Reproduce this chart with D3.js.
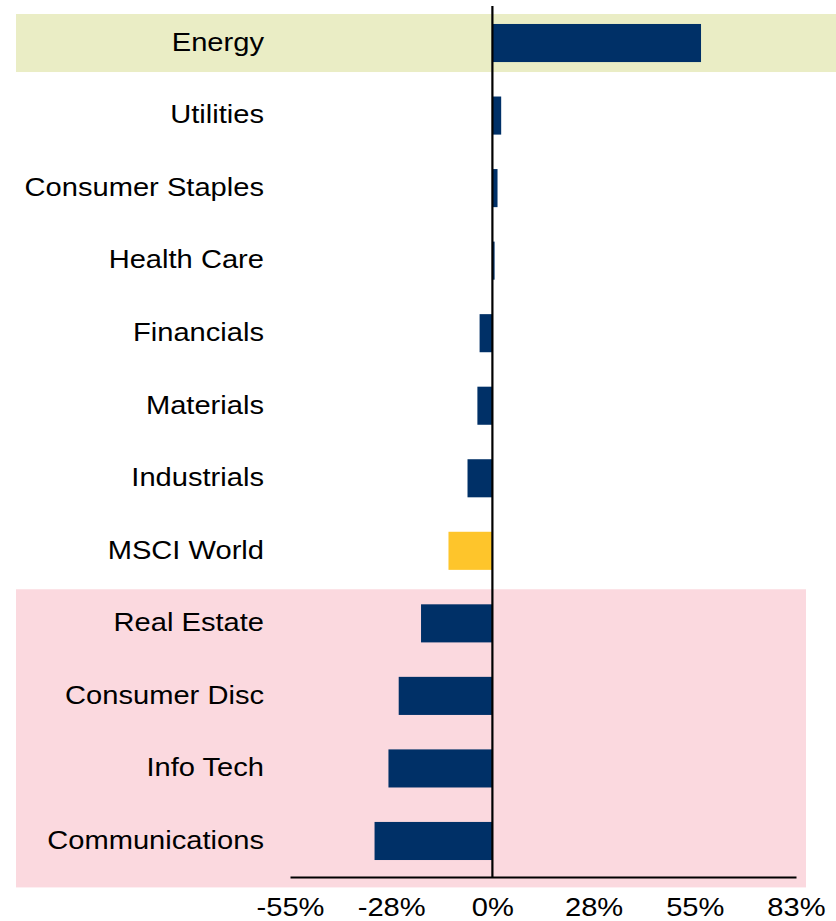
<!DOCTYPE html>
<html>
<head>
<meta charset="utf-8">
<script src="https://cdn.jsdelivr.net/npm/d3@7"></script>
<style>
  html, body { margin: 0; padding: 0; background: #fff; }
  svg { display: block; }
  text { font-family: Arial, "Liberation Sans", sans-serif; fill: #000; }
</style>
</head>
<body>
<svg id="chart" width="836" height="921"></svg>
<script>
const categories = ["Energy", "Utilities", "Consumer Staples", "Health Care", "Financials",
  "Materials", "Industrials", "MSCI World", "Real Estate", "Consumer Disc", "Info Tech", "Communications"];
const values = [57.0, 2.4, 1.4, 0.6, -3.5, -4.1, -6.8, -12.0, -19.5, -25.6, -28.4, -32.2];
const highlight = ["MSCI World"];
const tickValues = [-55.3, -27.65, 0, 27.65, 55.3, 82.95];
const tickLabels = ["-55%", "-28%", "0%", "28%", "55%", "83%"];
const positiveBand = ["Energy"];
const negativeBand = ["Real Estate", "Consumer Disc", "Info Tech", "Communications"];

const svg = d3.select("#chart");
const x = d3.scaleLinear().domain([-55.3, 82.95]).range([290, 796]);
const y = d3.scaleBand().domain(categories).range([7, 877]).paddingInner(0.475).paddingOuter(0.234);
const step = y.step();
const c = d => y(d) + y.bandwidth() / 2;

// background bands
svg.append("rect")
  .attr("x", 16).attr("width", 820)
  .attr("y", c(positiveBand[0]) - 0.4 * step)
  .attr("height", 0.8 * step)
  .attr("fill", "#eaedc5");
const nb0 = c(negativeBand[0]) - 0.47 * step;
const nb1 = c(negativeBand[negativeBand.length - 1]) + 0.64 * step;
svg.append("rect")
  .attr("x", 16).attr("width", 790)
  .attr("y", nb0).attr("height", nb1 - nb0)
  .attr("fill", "#fbd9df");

// bars
svg.append("g").selectAll("rect")
  .data(categories.map((k, i) => ({ k, v: values[i] })))
  .join("rect")
  .attr("x", d => x(Math.min(0, d.v)))
  .attr("width", d => Math.abs(x(d.v) - x(0)))
  .attr("y", d => y(d.k))
  .attr("height", y.bandwidth())
  .attr("fill", d => highlight.includes(d.k) ? "#fec52b" : "#003067");

// category labels
svg.append("g").selectAll("text")
  .data(categories)
  .join("text")
  .attr("text-anchor", "end")
  .attr("font-size", 26)
  .attr("transform", d => `translate(264,${c(d)}) scale(1.12,1)`)
  .attr("dy", "0.3em")
  .text(d => d);

// x axis
const xAxis = d3.axisBottom(x).tickValues(tickValues)
  .tickFormat((d, i) => tickLabels[i]).tickSize(0).tickPadding(0);
const ax = svg.append("g").attr("transform", "translate(0,877)").call(xAxis);
ax.select(".domain").attr("stroke", "#000").attr("stroke-width", 2.2);
ax.selectAll(".tick text")
  .attr("font-family", "Arial, 'Liberation Sans', sans-serif")
  .attr("font-size", 26)
  .attr("fill", "#000")
  .attr("dy", 0)
  .attr("y", 39)
  .attr("transform", "scale(1.12,1)");

// zero line
svg.append("line")
  .attr("x1", x(0)).attr("x2", x(0))
  .attr("y1", 6).attr("y2", 877)
  .attr("stroke", "#000").attr("stroke-width", 2.2);
</script>
</body>
</html>
